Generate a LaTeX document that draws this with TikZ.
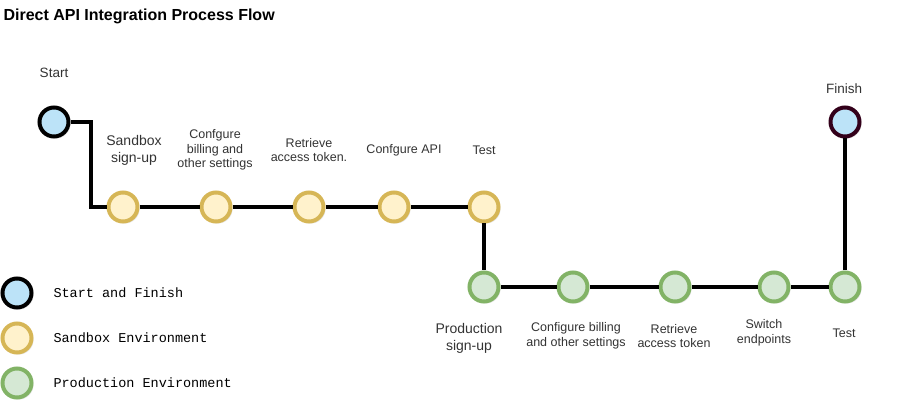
\documentclass[tikz,border=0pt]{standalone}
\usepackage{fontspec}
\setmainfont{Liberation Sans}
\setmonofont{Liberation Mono}
\usetikzlibrary{positioning,shadows}

\definecolor{endfill}{HTML}{BCE3F8}
\definecolor{finline}{HTML}{33001A}
\definecolor{sandfill}{HTML}{FFF2CC}
\definecolor{sandline}{HTML}{D6B656}
\definecolor{prodfill}{HTML}{D5E8D4}
\definecolor{prodline}{HTML}{82B366}

\begin{document}
\begin{tikzpicture}[
    x=1pt, y=-1pt,
    dot/.style={
        circle, draw,
        line width=4pt,
        minimum size=29pt,
        inner sep=0pt,
        drop shadow={opacity=0.2, shadow xshift=2pt, shadow yshift=-2pt}
    },
    ends/.style={dot, draw=black, fill=endfill},
    sbox/.style={dot, draw=sandline, fill=sandfill},
    prod/.style={dot, draw=prodline, fill=prodfill},
    link/.style={line width=4pt},
    lbl/.style={font=\fontsize{12.5}{14.6}\selectfont, align=center, text=black!80},
    big/.style={font=\fontsize{14}{16.8}\selectfont, align=center, text=black!80},
    key/.style={font=\ttfamily\fontsize{13.5}{16}\selectfont, anchor=west},
]
\useasboundingbox (0,0) rectangle (912,411);

\node[anchor=west, font=\bfseries\fontsize{16}{19}\selectfont] (title) at (0,16)
    {Direct API Integration Process Flow};

% start and sandbox row
\node[ends] (start) at (54,122) {};
\node[sbox] (s1) at (123,207) {};
\node[sbox] (s2) at (216,207) {};
\node[sbox] (s3) at (309,207) {};
\node[sbox] (s4) at (394,207) {};
\node[sbox] (s5) at (484,207) {};

% production row and finish
\node[prod] (p1) at (484,287) {};
\node[prod] (p2) at (573,287) {};
\node[prod] (p3) at (675,287) {};
\node[prod] (p4) at (774,287) {};
\node[prod] (p5) at (845,287) {};
\node[ends, draw=finline] (finish) at (845,122) {};

\coordinate (k1) at (91,122);
\draw[link] (start) -- (k1) |- (s1);
\draw[link] (s1) -- (s2);
\draw[link] (s2) -- (s3);
\draw[link] (s3) -- (s4);
\draw[link] (s4) -- (s5);
\draw[link] (s5) -- (p1);
\draw[link] (p1) -- (p2);
\draw[link] (p2) -- (p3);
\draw[link] (p3) -- (p4);
\draw[link] (p4) -- (p5);
\draw[link] (p5) -- (finish);

% labels
\node[big, font=\fontsize{13.5}{16}\selectfont] (lstart) at (54,73) {Start};
\node[big] (ls1) at (134,150) {Sandbox\\sign-up};
\node[lbl] (ls2) at (215,150) {Confgure\\billing and\\other settings};
\node[lbl] (ls3) at (309,150) {Retrieve\\access token.};
\node[lbl] (ls4) at (404,150) {Confgure API};
\node[lbl] (ls5) at (484,150) {Test};
\node[big] (lp1) at (469,338) {Production\\sign-up};
\node[lbl] (lp2) at (576,336) {Configure billing\\and other settings};
\node[lbl] (lp3) at (674,336) {Retrieve\\access token};
\node[lbl] (lp4) at (764,333) {Switch\\endpoints};
\node[lbl] (lp5) at (844,333) {Test};
\node[big, font=\fontsize{13.5}{16}\selectfont] (lfin) at (844,89) {Finish};

% legend
\node[ends] (k-end) at (17,293) {};
\node[sbox] (k-sand) at (17,338) {};
\node[prod] (k-prod) at (17,383) {};
\node[key] at (50,293) {Start and Finish};
\node[key] at (50,338) {Sandbox Environment};
\node[key] at (50,383) {Production Environment};

\end{tikzpicture}
\end{document}
